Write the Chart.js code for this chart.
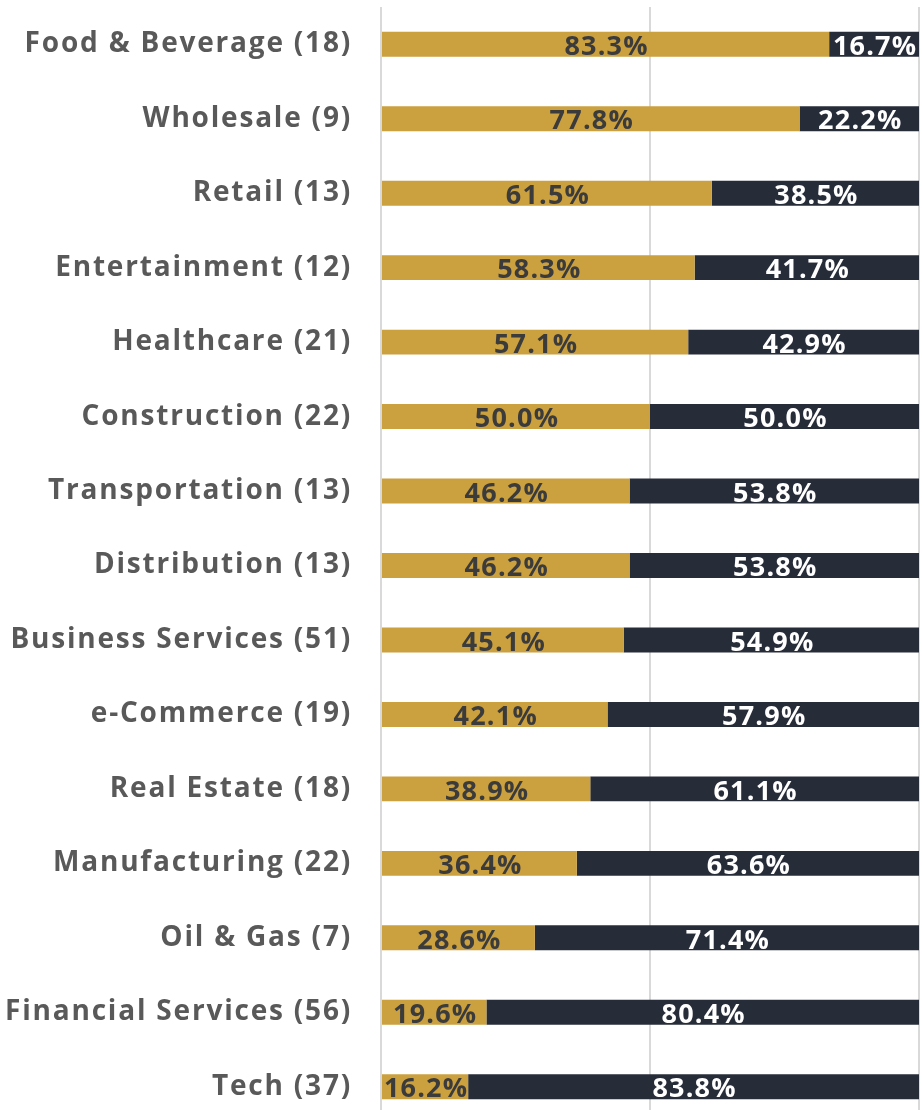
<!DOCTYPE html>
<html>
<head>
<meta charset="utf-8">
<script src="https://cdn.jsdelivr.net/npm/chart.js@4.4.1/dist/chart.umd.min.js"></script>
<style>
  html, body { margin: 0; padding: 0; background: #fff; overflow: hidden; }
  #wrap { width: 922px; height: 1110px; overflow: hidden; }
</style>
</head>
<body>
<div id="wrap"><canvas id="myChart" width="922" height="1130"></canvas></div>
<script>
// industries, with number of responses in brackets
const categories = ['Food & Beverage (18)', 'Wholesale (9)', 'Retail (13)', 'Entertainment (12)',
    'Healthcare (21)', 'Construction (22)', 'Transportation (13)', 'Distribution (13)',
    'Business Services (51)', 'e-Commerce (19)', 'Real Estate (18)', 'Manufacturing (22)',
    'Oil & Gas (7)', 'Financial Services (56)', 'Tech (37)']
const goldValues = [83.3, 77.8, 61.5, 58.3, 57.1, 50.0, 46.2, 46.2, 45.1, 42.1, 38.9, 36.4, 28.6, 19.6, 16.2]
const navyValues = [16.7, 22.2, 38.5, 41.7, 42.9, 50.0, 53.8, 53.8, 54.9, 57.9, 61.1, 63.6, 71.4, 80.4, 83.8]
const xTicks = [0, 50, 100]

const GOLD = '#cba03f'
const NAVY = '#272c39'
const FONT = '"Open Sans", Lato, sans-serif'

// the original font is wider, so spread the letters a bit
const spacing = {
    id: 'spacing',
    beforeDraw(chart) { chart.ctx.letterSpacing = '1.8px' },
    afterDraw(chart) { chart.ctx.letterSpacing = '0px' }
}

/*
    barLabels writes the percentage in the middle of every bar segment
*/
const barLabels = {
    id: 'barLabels',
    afterDatasetsDraw(chart) {
        const ctx = chart.ctx
        ctx.save()
        ctx.font = 'bold 27px ' + FONT
        ctx.letterSpacing = '1.2px'
        ctx.textAlign = 'center'
        ctx.textBaseline = 'middle'
        chart.data.datasets.forEach((ds, i) => {
            const meta = chart.getDatasetMeta(i)
            meta.data.forEach((bar, j) => {
                const p = bar.getProps(['x', 'y', 'base'], true)
                ctx.fillStyle = ds.labelColor
                ctx.fillText(ds.data[j].toFixed(1) + '%', (p.x + p.base) / 2 + 1, p.y + 3)
            })
        })
        ctx.restore()
    }
}

const ctx = document.getElementById('myChart')
new Chart(ctx, {
    type: 'bar',
    data: {
        labels: categories,
        datasets: [{
            data: goldValues,
            backgroundColor: GOLD,
            labelColor: '#3b3b3b',
            barPercentage: 0.335,
            categoryPercentage: 1
        }, {
            data: navyValues,
            backgroundColor: NAVY,
            labelColor: '#ffffff',
            barPercentage: 0.335,
            categoryPercentage: 1
        }]
    },
    options: {
        indexAxis: 'y',
        responsive: false,
        animation: false,
        layout: { padding: { top: 7, right: 3, bottom: 6, left: 0 } },
        plugins: {
            legend: { display: false },
            tooltip: { enabled: false }
        },
        scales: {
            x: {
                stacked: true,
                min: 0,
                max: 100,
                afterBuildTicks: (s) => { s.ticks = xTicks.map(v => ({ value: v })) },
                afterFit: (s) => { s.height = 0; s.paddingLeft = 0; s.paddingRight = 0 },
                ticks: { display: false },
                grid: { color: '#d9d9d9', lineWidth: 2, drawTicks: false },
                border: { display: false }
            },
            y: {
                stacked: true,
                afterFit: (s) => { s.width = 381; s.paddingTop = 0; s.paddingBottom = 0 },
                ticks: {
                    padding: 29,
                    color: '#595959',
                    font: { family: FONT, size: 28, weight: 'bold' }
                },
                grid: { display: false, drawTicks: false },
                border: { display: false }
            }
        }
    },
    plugins: [spacing, barLabels]
});
</script>
</body>
</html>
